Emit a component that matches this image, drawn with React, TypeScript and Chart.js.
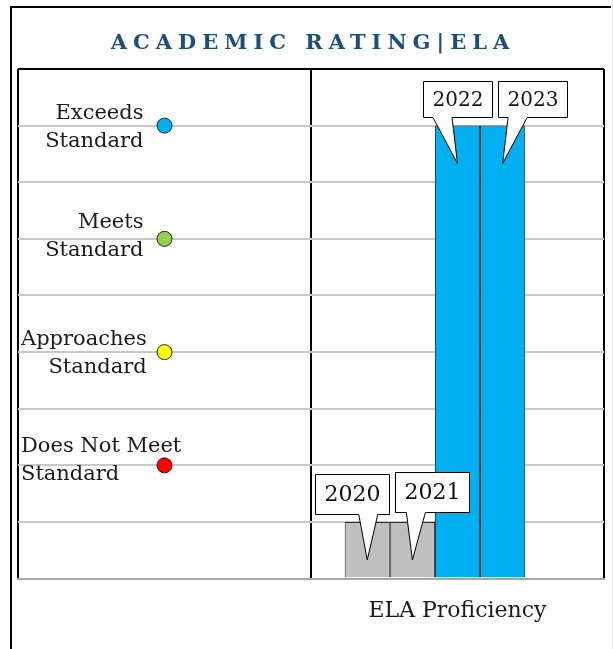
import React, { useEffect, useRef } from 'react';
import { Chart, registerables } from 'chart.js';

Chart.register(...registerables);

// ---- data ----
const categories = ['Rating', 'ELA Proficiency'];
const years = ['2020', '2021', '2022', '2023'];
const yearValues = [1, 1, 8, 8];
const ratingLabels = ['Exceeds\nStandard', 'Meets\nStandard', 'Approaches\nStandard', 'Does Not Meet\nStandard'];
const ratingValues = [8, 6, 4, 2];
const yMin = 0;
const yMax = 9;
const titleText = 'ACADEMIC RATING|ELA';

// ---- styles ----
const yearColors = ['#bfbfbf', '#bfbfbf', '#00b0f0', '#00b0f0'];
const ratingColors = ['#00b0f0', '#92d050', '#ffff00', '#ff0000'];
const ratingAlign: CanvasTextAlign[] = ['right', 'right', 'right', 'left'];
const ratingDy = [1.5, -2, 1.5, -5];
const calloutStyle = [
  { dx: -15, lift: 8, base: 1, size: 22 },
  { dx: 20, lift: 10, base: 3.5, size: 22 },
  { dx: 0, lift: 9, base: -15, size: 20 },
  { dx: 30, lift: 9, base: 15, size: 20 },
];
const SERIF = '"DejaVu Serif", serif';

const framePlugin = {
  id: 'frame',
  beforeDraw(chart: any) {
    const ctx = chart.ctx as CanvasRenderingContext2D;
    const area = chart.chartArea;
    ctx.save();
    ctx.fillStyle = '#ffffff';
    ctx.fillRect(0, 0, chart.width, chart.height);
    ctx.strokeStyle = '#000000';
    ctx.lineWidth = 2;
    ctx.beginPath();
    ctx.moveTo(11, chart.height + 5);
    ctx.lineTo(11, 7);
    ctx.lineTo(611, 7);
    ctx.stroke();
    ctx.strokeStyle = '#dedede';
    ctx.lineWidth = 1;
    ctx.beginPath();
    ctx.moveTo(612.5, 0);
    ctx.lineTo(612.5, chart.height);
    ctx.stroke();
    // title
    ctx.font = 'bold 21px ' + SERIF;
    (ctx as any).letterSpacing = '6px';
    ctx.fillStyle = '#1f4e79';
    ctx.textBaseline = 'middle';
    ctx.textAlign = 'left';
    const w = ctx.measureText(titleText).width - 6;
    const cx = (area.left + area.right) / 2 - 1;
    ctx.fillText(titleText, cx - w / 2, 44);
    ctx.restore();
  },
};

const labelsPlugin = {
  id: 'customLabels',
  afterDatasetsDraw(chart: any) {
    const ctx = chart.ctx as CanvasRenderingContext2D;
    const area = chart.chartArea;
    ctx.save();
    // rating labels beside the dots
    const dotMeta = chart.getDatasetMeta(years.length + 1);
    ctx.font = '21px ' + SERIF;
    ctx.fillStyle = '#1a1a1a';
    ctx.textBaseline = 'middle';
    dotMeta.data.forEach((pt: any, i: number) => {
      const lines = ratingLabels[i].split('\n');
      const maxW = Math.max(...lines.map((l) => ctx.measureText(l).width));
      let right = pt.x - 21;
      let left = right - maxW;
      if (left < area.left + 2) {
        left = area.left + 3;
        right = left + maxW;
      }
      const align = ratingAlign[i];
      ctx.textAlign = align;
      lines.forEach((l, j) => {
        const y = pt.y + ratingDy[i] + (j - (lines.length - 1) / 2) * 28;
        ctx.fillText(l, align === 'right' ? right : left, y);
      });
    });

    // callouts on bars
    years.forEach((yr, i) => {
      const meta = chart.getDatasetMeta(i);
      const el = meta.data[1];
      if (!el) return;
      const st = calloutStyle[i];
      ctx.font = st.size + 'px ' + SERIF;
      const tw = ctx.measureText(yr).width;
      const w = tw + 18;
      const h = st.size * 1.2 + st.size * 0.65;
      const bottom = Math.round(el.y - st.lift) + 0.5;
      const top = Math.round(bottom - h) + 0.5;
      const left = Math.round(el.x + st.dx - w / 2) + 0.5;
      const right = Math.round(left + w) + 0.5;
      const tipX = el.x;
      const tipY = el.y + 38;
      const bx = el.x + st.base;
      ctx.beginPath();
      ctx.moveTo(left, top);
      ctx.lineTo(right, top);
      ctx.lineTo(right, bottom);
      ctx.lineTo(bx + 9.5, bottom);
      ctx.lineTo(tipX, tipY);
      ctx.lineTo(bx - 9.5, bottom);
      ctx.lineTo(left, bottom);
      ctx.closePath();
      ctx.fillStyle = '#ffffff';
      ctx.fill();
      ctx.strokeStyle = '#000000';
      ctx.lineWidth = 1;
      ctx.stroke();
      ctx.fillStyle = '#111111';
      ctx.textAlign = 'center';
      ctx.textBaseline = 'middle';
      ctx.fillText(yr, (left + right) / 2, (top + bottom) / 2 + 1);
    });
    ctx.restore();
  },
};

export default function App() {
  const ref = useRef<HTMLCanvasElement | null>(null);
  useEffect(() => {
    document.body.style.margin = '0';
    const canvas = ref.current;
    if (!canvas) return;
    const barSets = years.map((yr, i) => ({
      type: 'bar' as const,
      label: yr,
      data: categories.map((c, ci) => (ci === 1 ? yearValues[i] : null)),
      backgroundColor: yearColors[i],
      borderColor: '#2a2a2a',
      borderWidth: 1,
      borderSkipped: 'bottom' as const,
      barPercentage: 1,
      categoryPercentage: 0.77,
      order: 2,
    }));
    const spacer = {
      type: 'bar' as const,
      label: '',
      data: categories.map(() => null),
      backgroundColor: 'rgba(0,0,0,0)',
      barPercentage: 1,
      categoryPercentage: 0.77,
      order: 2,
    };
    const dots = {
      type: 'line' as const,
      label: 'Rating',
      data: ratingValues.map((v) => ({ x: categories[0], y: v })),
      showLine: false,
      pointRadius: 7.5,
      pointHoverRadius: 7.5,
      pointBackgroundColor: ratingColors,
      pointBorderColor: '#222222',
      pointBorderWidth: 1,
      order: 1,
    };
    const chart = new Chart(canvas, {
      type: 'bar',
      data: { labels: categories, datasets: [...barSets, spacer, dots] as any },
      options: {
        animation: false,
        responsive: false,
        maintainAspectRatio: false,
        layout: { padding: { left: 18, right: 9, top: 69, bottom: 6 } },
        plugins: { legend: { display: false }, tooltip: { enabled: false }, title: { display: false } },
        scales: {
          x: {
            type: 'category',
            offset: true,
            grid: { offset: true, color: '#000000', lineWidth: 2, drawTicks: false },
            border: { display: true, color: '#a6a6a6', width: 2 },
            ticks: {
              padding: 19,
              color: '#1a1a1a',
              font: { family: SERIF, size: 22 },
              callback: (_v: any, i: number) => (i === 0 ? '' : categories[i]),
            },
          },
          y: {
            min: yMin,
            max: yMax,
            ticks: { display: false, stepSize: 1 },
            grid: {
              drawTicks: false,
              lineWidth: 2,
              color: (c: any) => (c.tick && c.tick.value === yMax ? '#000000' : '#c8c8c8'),
            },
            border: { display: false },
          },
        },
      },
      plugins: [framePlugin, labelsPlugin],
    });
    return () => chart.destroy();
  }, []);
  return <canvas ref={ref} width={613} height={649} style={{ display: 'block' }} />;
}
